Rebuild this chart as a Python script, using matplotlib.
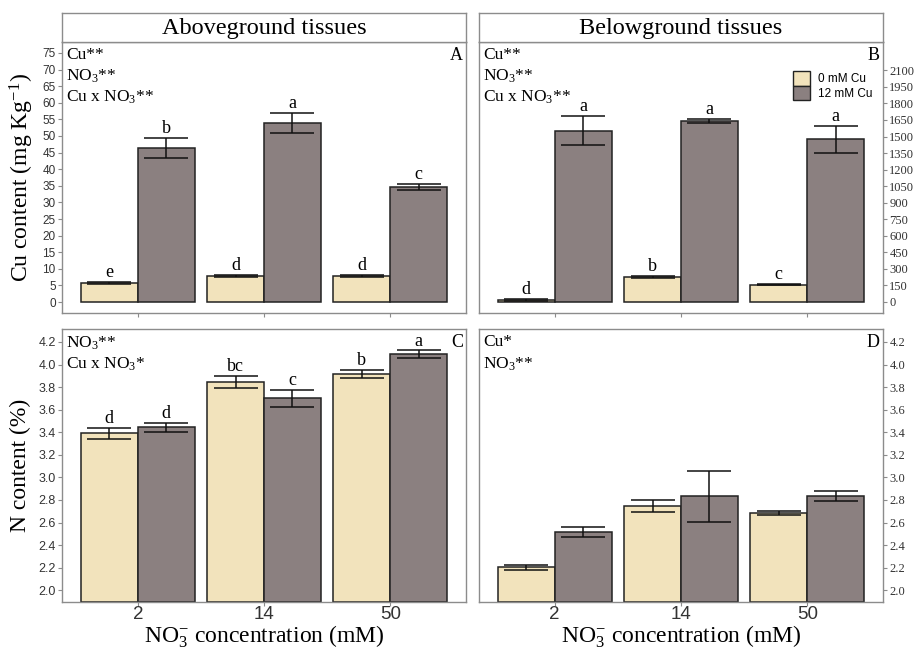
import numpy as np
import matplotlib
matplotlib.use("Agg")
import matplotlib.pyplot as plt
from matplotlib.patches import Patch
from matplotlib.ticker import FormatStrFormatter

plt.rcParams['font.family'] = ['Liberation Serif', 'DejaVu Serif']
plt.rcParams['mathtext.fontset'] = 'custom'
plt.rcParams['mathtext.rm'] = 'Liberation Serif'
plt.rcParams['mathtext.it'] = 'Liberation Serif:italic'

# data
nitrate = ['2', '14', '50']
groups = ['0 mM Cu', '12 mM Cu']

cu_above_0 = [5.6, 7.8, 7.7]
cu_above_0_se = [0.3, 0.3, 0.3]
cu_above_12 = [46.4, 54.0, 34.6]
cu_above_12_se = [3.0, 3.0, 1.0]
cu_above_let_0 = ['e', 'd', 'd']
cu_above_let_12 = ['b', 'a', 'c']

cu_below_0 = [18, 227, 157]
cu_below_0_se = [6, 8, 5]
cu_below_12 = [1552, 1644, 1475]
cu_below_12_se = [133, 18, 124]
cu_below_let_0 = ['d', 'b', 'c']
cu_below_let_12 = ['a', 'a', 'a']

n_above_0 = [3.39, 3.845, 3.915]
n_above_0_se = [0.05, 0.055, 0.037]
n_above_12 = [3.443, 3.70, 4.09]
n_above_12_se = [0.043, 0.078, 0.036]
n_above_let_0 = ['d', 'bc', 'b']
n_above_let_12 = ['d', 'c', 'a']

n_below_0 = [2.205, 2.748, 2.685]
n_below_0_se = [0.022, 0.052, 0.02]
n_below_12 = [2.515, 2.835, 2.835]
n_below_12_se = [0.043, 0.226, 0.043]

col0 = '#F2E3BC'
col12 = '#8B8080'
frame_col = '#8c8c8c'
tick_col = '#333333'
sans = ['Liberation Sans', 'DejaVu Sans']

fig = plt.figure(figsize=(9.16, 6.49), dpi=100)

W, H = 916, 649
def box(x0, y0, x1, y1):
    return [x0 / W, 1 - y1 / H, (x1 - x0) / W, (y1 - y0) / H]

axA = fig.add_axes(box(62, 42, 466, 313))
axB = fig.add_axes(box(479, 42, 883, 313))
axC = fig.add_axes(box(62, 329, 466, 602))
axD = fig.add_axes(box(479, 329, 883, 602))

def draw_panel(ax, v0, e0, v12, e12, l0, l12, ylim, yticks, base, off, tsize):
    x = np.arange(1, len(nitrate) + 1)
    w = 0.45
    for xs, v, e, c in [(x - w / 2, v0, e0, col0), (x + w / 2, v12, e12, col12)]:
        ax.bar(xs, np.array(v) - base, bottom=base, width=w, color=c,
               edgecolor='#222222', linewidth=1.1, zorder=2)
        ax.errorbar(xs, v, yerr=e, fmt='none', ecolor='#111111',
                    elinewidth=1.1, capsize=16, capthick=1.1, zorder=3)
    if l0 is not None:
        for xs, v, e, labs in [(x - w / 2, v0, e0, l0), (x + w / 2, v12, e12, l12)]:
            for xi, vi, ei, li in zip(xs, v, e, labs):
                ax.text(xi, vi + ei + off, li, ha='center', va='bottom',
                        fontsize=13, zorder=4)
    ax.set_xlim(0.4, 3.6)
    ax.set_ylim(*ylim)
    ax.set_yticks(yticks)
    ax.set_xticks(x)
    for s in ax.spines.values():
        s.set_color(frame_col)
        s.set_linewidth(1.0)
    ax.tick_params(colors=frame_col, labelcolor=tick_col, length=3, width=0.8,
                   labelsize=tsize, pad=1.5)
    for lab in ax.get_yticklabels():
        lab.set_family(sans)

draw_panel(axA, cu_above_0, cu_above_0_se, cu_above_12, cu_above_12_se,
           cu_above_let_0, cu_above_let_12, (-3.3, 78.3), np.arange(0, 76, 5), 0, 0.3, 8.5)
draw_panel(axB, cu_below_0, cu_below_0_se, cu_below_12, cu_below_12_se,
           cu_below_let_0, cu_below_let_12, (-100, 2357), np.arange(0, 2101, 150), 0, 10, 9)
draw_panel(axC, n_above_0, n_above_0_se, n_above_12, n_above_12_se,
           n_above_let_0, n_above_let_12, (1.896, 4.315), np.arange(2.0, 4.21, 0.2), 1.896, 0.005, 9)
draw_panel(axD, n_below_0, n_below_0_se, n_below_12, n_below_12_se,
           None, None, (1.896, 4.315), np.arange(2.0, 4.21, 0.2), 1.896, 0.005, 9)

for ax in (axA, axB):
    ax.set_xticklabels([])
for ax in (axC, axD):
    ax.yaxis.set_major_formatter(FormatStrFormatter('%.1f'))
    ax.set_xticklabels(nitrate)
    ax.tick_params(axis='x', labelsize=13.5, pad=0)
    for lab in ax.get_xticklabels():
        lab.set_family(sans)
    ax.set_xlabel(r'NO$_3^{\mathregular{-}}$ concentration (mM)', fontsize=17, labelpad=0)
    for lab in ax.get_yticklabels():
        lab.set_family(sans)

for ax in (axB, axD):
    ax.yaxis.tick_right()

axA.set_ylabel(r'Cu content (mg Kg$^{\mathregular{-1}}$)', fontsize=17, labelpad=5)
axC.set_ylabel('N content (%)', fontsize=17, labelpad=5)

# factor significance notes
notes = {
    axA: [r'Cu**', r'NO$_3$**', r'Cu x NO$_3$**'],
    axB: [r'Cu**', r'NO$_3$**', r'Cu x NO$_3$**'],
    axC: [r'NO$_3$**', r'Cu x NO$_3$*'],
    axD: [r'Cu*', r'NO$_3$**'],
}
for ax, lines in notes.items():
    for i, t in enumerate(lines):
        ax.text(0.01, 0.98 - i * 0.076, t, transform=ax.transAxes, ha='left',
                va='top', fontsize=12.5)

for ax, t in zip((axA, axB, axC, axD), 'ABCD'):
    ax.text(0.992, 0.98, t, transform=ax.transAxes, ha='right', va='top', fontsize=13)

# strip headers
for (x0, x1), title in [((62, 466), 'Aboveground tissues'), ((479, 883), 'Belowground tissues')]:
    s = fig.add_axes(box(x0, 13, x1, 42))
    s.set_xticks([])
    s.set_yticks([])
    for sp in s.spines.values():
        sp.set_color(frame_col)
        sp.set_linewidth(1.0)
    s.text(0.5, 0.46, title, transform=s.transAxes, ha='center', va='center', fontsize=17.5)

handles = [Patch(facecolor=col0, edgecolor='#222222', linewidth=1.0),
           Patch(facecolor=col12, edgecolor='#222222', linewidth=1.0)]
leg = axB.legend(handles, groups, loc='upper left', bbox_to_anchor=(0.765, 0.91),
                 frameon=False, fontsize=8.5, handlelength=1.5, handleheight=1.5,
                 labelspacing=0.0, handletextpad=0.6, borderaxespad=0)
for t in leg.get_texts():
    t.set_family(sans)

fig.savefig('out.png', dpi=100)
